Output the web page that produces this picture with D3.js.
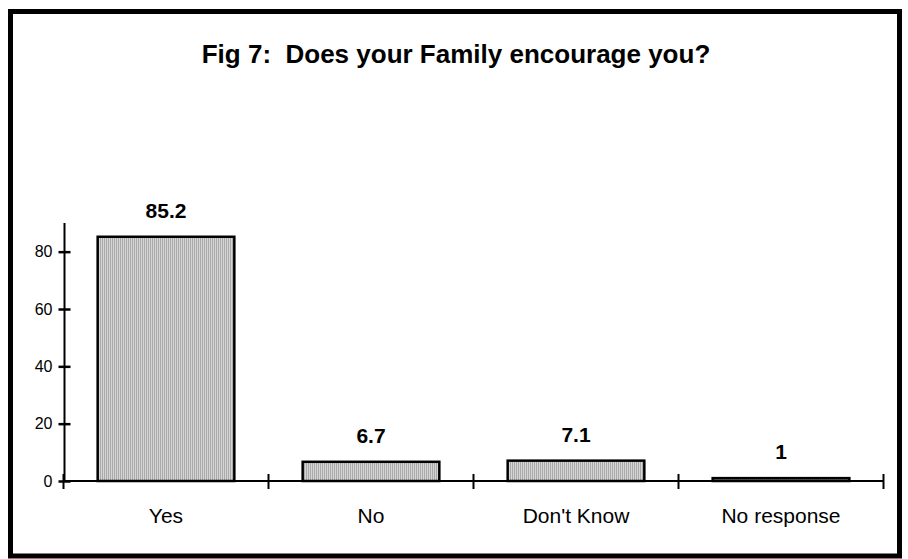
<!DOCTYPE html>
<html>
<head>
<meta charset="utf-8">
<script src="https://cdn.jsdelivr.net/npm/d3@7"></script>
<style>
  html, body { margin: 0; padding: 0; background: #fff; }
  svg { display: block; font-family: "Liberation Sans", Arial, sans-serif; }
</style>
</head>
<body>
<svg id="chart" width="908" height="559"></svg>
<script>
// Survey responses (percent of respondents)
const categories = ["Yes", "No", "Don't Know", "No response"];
const values = [85.2, 6.7, 7.1, 1];
const valueLabels = ["85.2", "6.7", "7.1", "1"];
const yTicks = [0, 20, 40, 60, 80];
const title = "Fig 7:  Does your Family encourage you?";

const svg = d3.select("#chart");

// Outer frame
svg.append("rect")
  .attr("x", 10.5).attr("y", 11.5)
  .attr("width", 889).attr("height", 544.5)
  .attr("fill", "#fff").attr("stroke", "#000").attr("stroke-width", 5);

// Fine vertical hatching used to fill the bars
const defs = svg.append("defs");
const pat = defs.append("pattern")
  .attr("id", "vstripe").attr("patternUnits", "userSpaceOnUse")
  .attr("width", 2).attr("height", 4);
pat.append("rect").attr("x", 0).attr("y", 0).attr("width", 1).attr("height", 4).attr("fill", "#a9a9a9");
pat.append("rect").attr("x", 1).attr("y", 0).attr("width", 1).attr("height", 4).attr("fill", "#d6d6d6");

// Title (keeps the double space after the colon)
svg.append("text")
  .attr("x", 456).attr("y", 63)
  .attr("text-anchor", "middle")
  .attr("font-size", 26).attr("font-weight", "bold")
  .style("white-space", "pre")
  .attr("xml:space", "preserve")
  .text(title);

const x = d3.scaleBand()
  .domain(categories)
  .range([63.5, 883.5])
  .paddingInner(1 / 3)
  .paddingOuter(1 / 6);

const y = d3.scaleLinear().domain([0, 90]).range([481, 223]);

// Bars
svg.append("g").selectAll("rect")
  .data(categories)
  .join("rect")
  .attr("x", d => x(d))
  .attr("y", (d, i) => y(values[i]))
  .attr("width", x.bandwidth())
  .attr("height", (d, i) => y(0) - y(values[i]))
  .attr("fill", "url(#vstripe)")
  .attr("stroke", "#000")
  .attr("stroke-width", 2.5);

// Value labels
svg.append("g").selectAll("text")
  .data(categories)
  .join("text")
  .attr("x", d => x(d) + x.bandwidth() / 2)
  .attr("y", (d, i) => y(values[i]) - 19)
  .attr("text-anchor", "middle")
  .attr("font-size", 21).attr("font-weight", "bold")
  .text((d, i) => valueLabels[i]);

// Y axis
const yAxis = d3.axisLeft(y).tickValues(yTicks).tickSize(0).tickPadding(12);
const gy = svg.append("g").attr("transform", "translate(64.5,0)").call(yAxis);
gy.select(".domain").remove();
gy.selectAll("text").attr("font-size", 16).attr("font-family", "Liberation Sans, Arial, sans-serif").attr("fill", "#000");
gy.append("line").attr("x1", 0).attr("x2", 0).attr("y1", y(90)).attr("y2", y(0))
  .attr("stroke", "#000").attr("stroke-width", 2);
gy.selectAll(".tick").append("line")
  .attr("x1", -6).attr("x2", 6).attr("stroke", "#000").attr("stroke-width", 2.5);

// X axis: baseline, tick marks at category boundaries, labels under bars
const step = x.step();
const bounds = d3.range(categories.length + 1).map(i => x.range()[0] + i * step);
const gx = svg.append("g");
gx.append("line").attr("x1", x.range()[0]).attr("x2", x.range()[1])
  .attr("y1", y(0)).attr("y2", y(0)).attr("stroke", "#000").attr("stroke-width", 2);
gx.selectAll("line.bound").data(bounds).join("line").attr("class", "bound")
  .attr("x1", d => d).attr("x2", d => d)
  .attr("y1", y(0) - 7).attr("y2", y(0) + 8)
  .attr("stroke", "#000").attr("stroke-width", 2);
gx.selectAll("text").data(categories).join("text")
  .attr("x", d => x(d) + x.bandwidth() / 2)
  .attr("y", 523)
  .attr("text-anchor", "middle")
  .attr("font-size", 21)
  .text(d => d);
</script>
</body>
</html>
